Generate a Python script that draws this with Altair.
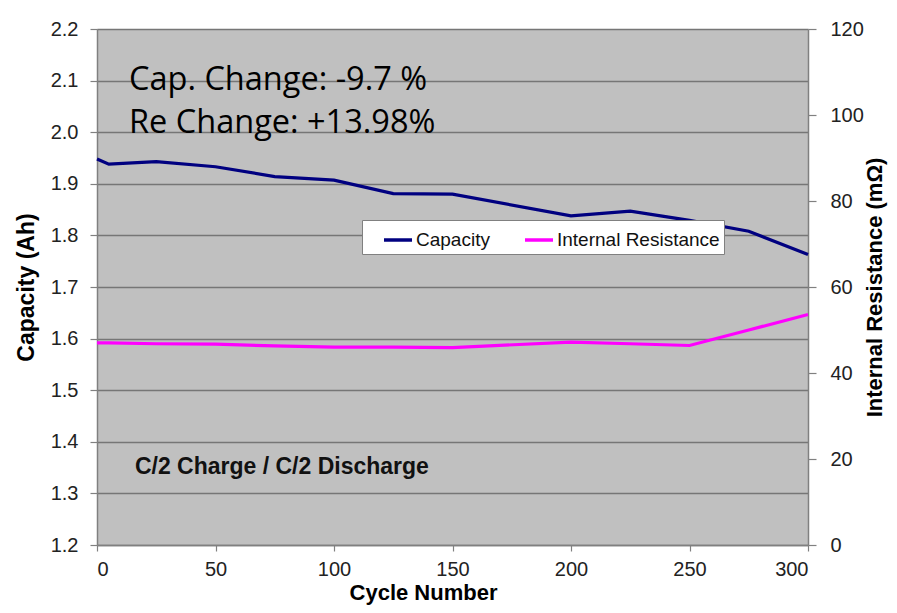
import altair as alt
import pandas as pd

# ---- data ----
cycles = [0, 5, 25, 50, 75, 100, 125, 150, 200, 225, 250, 275, 300]
capacity = [1.948, 1.938, 1.943, 1.933, 1.914, 1.907, 1.881, 1.880, 1.838, 1.847, 1.829, 1.808, 1.763]
resistance = [47.0, 47.0, 46.8, 46.7, 46.3, 46.0, 46.0, 45.9, 47.2, 46.8, 46.4, 50.0, 53.6]

series_names = ["Capacity", "Internal Resistance"]
series_colors = ["#000080", "#FF00FF"]

x_ticks = [0, 50, 100, 150, 200, 250, 300]
cap_ticks = [1.2, 1.3, 1.4, 1.5, 1.6, 1.7, 1.8, 1.9, 2.0, 2.1, 2.2]
res_ticks = [0, 20, 40, 60, 80, 100, 120]

annot_text = ["Cap. Change: -9.7 %", "Re Change: +13.98%"]
annot_cycle = [13.5, 13.5]
annot_cap = [2.082, 1.998]

note_text = ["C/2 Charge / C/2 Discharge"]
note_cycle = [16]
note_cap = [1.338]

df = pd.DataFrame({"cycle": cycles, "capacity": capacity, "resistance": resistance})
df_annot = pd.DataFrame({"cycle": annot_cycle, "cap": annot_cap, "label": annot_text})
df_note = pd.DataFrame({"cycle": note_cycle, "cap": note_cap, "label": note_text})

FONT = "Liberation Sans"

x_enc = alt.X(
    "cycle:Q",
    scale=alt.Scale(domain=[0, 300], nice=False),
    axis=alt.Axis(
        values=x_ticks, title="Cycle Number", grid=False,
        tickSize=6, labelPadding=8, titlePadding=3,
        titleX=326, titleAlign="center", titleFontSize=22,
    ),
)

color_scale = alt.Scale(domain=series_names, range=series_colors)
legend = alt.Legend(
    orient="none", legendX=265, legendY=191, direction="horizontal", title=None,
    fillColor="white", strokeColor="#808080", padding=4,
    symbolType="stroke", symbolStrokeWidth=3.5, symbolSize=784, symbolOffset=16,
    labelFontSize=19, labelFont=FONT, labelColor="#111", labelOffset=2,
    labelLimit=400, columnPadding=17,
)
color_enc = alt.Color("series:N", scale=color_scale, legend=legend)

cap_line = alt.Chart(df).transform_calculate(series="'Capacity'").mark_line(strokeWidth=3.2).encode(
    x=x_enc,
    y=alt.Y(
        "capacity:Q",
        scale=alt.Scale(domain=[1.2, 2.2], nice=False, zero=False),
        axis=alt.Axis(
            values=cap_ticks, format=".1f", title="Capacity (Ah)", orient="left",
            grid=True, gridColor="#767676", gridWidth=1.5,
            tickSize=7, labelPadding=12, titlePadding=12,
        ),
    ),
    color=color_enc,
)

res_line = alt.Chart(df).transform_calculate(series="'Internal Resistance'").mark_line(strokeWidth=3.2).encode(
    x=x_enc,
    y=alt.Y(
        "resistance:Q",
        scale=alt.Scale(domain=[0, 120], nice=False),
        axis=alt.Axis(
            values=res_ticks, title="Internal Resistance (mΩ)", orient="right",
            grid=False, tickSize=8, labelPadding=14, titlePadding=23,
            titleAngle=270, titleFontSize=22,
        ),
    ),
    color=color_enc,
)

annot = alt.Chart(df_annot).mark_text(
    align="left", baseline="alphabetic", font="Open Sans", fontSize=32.5, color="#000"
).encode(
    x=x_enc,
    y=alt.Y("cap:Q", scale=alt.Scale(domain=[1.2, 2.2], nice=False, zero=False), axis=None),
    text="label:N",
)

note = alt.Chart(df_note).mark_text(
    align="left", baseline="alphabetic", font=FONT, fontSize=23, fontWeight="bold", color="#111"
).encode(
    x=x_enc,
    y=alt.Y("cap:Q", scale=alt.Scale(domain=[1.2, 2.2], nice=False, zero=False), axis=None),
    text="label:N",
)

chart = (
    alt.layer(cap_line, res_line, annot, note)
    .resolve_scale(y="independent")
    .properties(
        width=711, height=516,
        autosize=alt.AutoSizeParams(type="none"),
        padding={"left": 89, "top": 21, "right": 80, "bottom": 60},
        background="white",
    )
    .configure_view(fill="#C0C0C0", stroke=None)
    .configure_axis(
        domainColor="#808080", domainWidth=1.5, tickColor="#808080", tickWidth=1.2,
        labelFont=FONT, labelFontSize=20, labelColor="#222",
        titleFont=FONT, titleFontSize=23, titleFontWeight="bold", titleColor="#000",
    )
)

chart.save("out.html", embed_options={"renderer": "svg", "actions": False})
